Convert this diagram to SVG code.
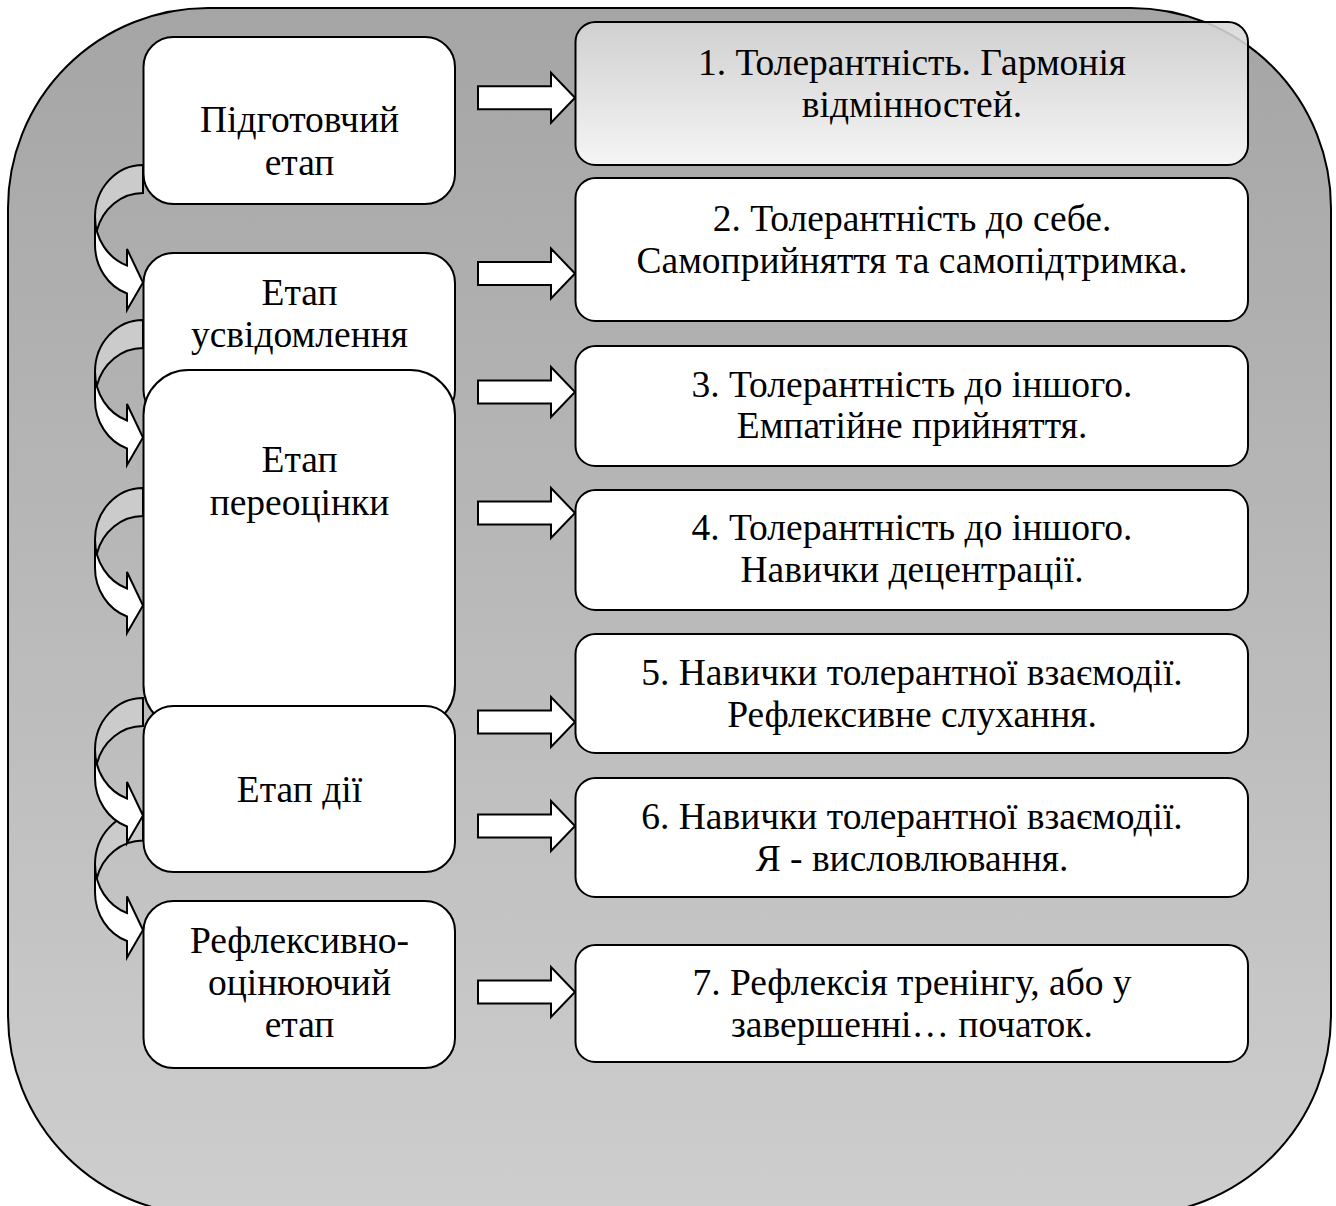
<svg xmlns="http://www.w3.org/2000/svg" width="1336" height="1206" viewBox="0 0 1336 1206">
<defs>
<linearGradient id="bg" x1="0" y1="0" x2="0" y2="1">
<stop offset="0" stop-color="#a5a5a5"/>
<stop offset="1" stop-color="#cecece"/>
</linearGradient>
<linearGradient id="g1" x1="0" y1="0" x2="0" y2="1">
<stop offset="0" stop-color="#d6d6d6"/>
<stop offset="1" stop-color="#ffffff"/>
</linearGradient>
<g id="carrow">
<path class="cw" d="M0,51.75 A48,51.75 0 0 0 32,100.54 L32,84.04 L48,117.5 L32,145.04 L32,128.54 A48,51.75 0 0 1 0,79.75 Z"/>
<path class="cd" d="M48,28 A48,51.75 0 0 0 1.79,65.75 A48,51.75 0 0 1 48,0 Z"/>
<path class="co" d="M0,51.75 A48,51.75 0 0 0 32,100.54 L32,84.04 L48,117.5 L32,145.04 L32,128.54 A48,51.75 0 0 1 0,79.75 L0,51.75 A48,51.75 0 0 1 48,0 L48,28 A48,51.75 0 0 0 1.79,65.75"/>
</g>
<path id="rarrow" class="ra" d="M478,-11.5 H551 V-25 L575,0 L551,25 V11.5 H478 Z"/>
</defs>
<style>
.cw{fill:#ffffff;stroke:none}
.cd{fill:#cbcbcb;stroke:none}
.co{fill:none;stroke:#000;stroke-width:2;stroke-linejoin:miter}
.ra{fill:#ffffff;stroke:#000;stroke-width:2}
.box{fill:#ffffff;stroke:#000;stroke-width:2}
.t{font-family:"Liberation Serif","Times New Roman",serif;font-size:37.5px;fill:#000;text-anchor:middle}
</style>
<rect id="frame" x="8" y="8" width="1323" height="1207" rx="200" ry="200" fill="url(#bg)" stroke="#000" stroke-width="2"/>
<g id="connectors">
<use href="#carrow" transform="translate(95,812.5)"/>
<use href="#carrow" transform="translate(95,698)"/>
<use href="#carrow" transform="translate(95,488)"/>
<use href="#carrow" transform="translate(95,320)"/>
<use href="#carrow" transform="translate(95,165)"/>
<use href="#rarrow" transform="translate(0,97.7)"/>
<use href="#rarrow" transform="translate(0,273.5)"/>
<use href="#rarrow" transform="translate(0,392)"/>
<use href="#rarrow" transform="translate(0,513)"/>
<use href="#rarrow" transform="translate(0,722)"/>
<use href="#rarrow" transform="translate(0,826)"/>
<use href="#rarrow" transform="translate(0,992)"/>
</g>
<g id="stage1"><rect class="box" x="143.5" y="37" width="311.5" height="167" rx="30"/>
<text class="t" x="299.5" y="132">Підготовчий</text><text class="t" x="299.5" y="175">етап</text></g>
<g id="stage2"><rect class="box" x="143.5" y="253" width="311.5" height="167" rx="30"/>
<text class="t" x="299.5" y="305">Етап</text><text class="t" x="299.5" y="347">усвідомлення</text></g>
<g id="stage3"><rect class="box" x="143.5" y="370" width="311.5" height="360" rx="45"/>
<text class="t" x="299.5" y="472">Етап</text><text class="t" x="299.5" y="515">переоцінки</text></g>
<g id="stage4"><rect class="box" x="143.5" y="706" width="311.5" height="166" rx="30"/>
<text class="t" x="299.5" y="802">Етап дії</text></g>
<g id="stage5"><rect class="box" x="143.5" y="901" width="311.5" height="167" rx="30"/>
<text class="t" x="299.5" y="953">Рефлексивно-</text><text class="t" x="299.5" y="995">оцінюючий</text><text class="t" x="299.5" y="1037">етап</text></g>
<g id="topic1"><rect x="575.5" y="22" width="672.5" height="143" rx="20" fill="url(#g1)" fill-opacity="0.88" stroke="#000" stroke-width="2"/>
<text class="t" x="912" y="75">1. Толерантність. Гармонія</text><text class="t" x="912" y="117">відмінностей.</text></g>
<g id="topic2"><rect class="box" x="575.5" y="178" width="672.5" height="143" rx="20"/>
<text class="t" x="912" y="231">2. Толерантність до себе.</text><text class="t" x="912" y="273">Самоприйняття та самопідтримка.</text></g>
<g id="topic3"><rect class="box" x="575.5" y="346" width="672.5" height="120" rx="20"/>
<text class="t" x="912" y="397">3. Толерантність до іншого.</text><text class="t" x="912" y="438">Емпатійне прийняття.</text></g>
<g id="topic4"><rect class="box" x="575.5" y="490" width="672.5" height="120" rx="20"/>
<text class="t" x="912" y="540">4. Толерантність до іншого.</text><text class="t" x="912" y="582">Навички децентрації.</text></g>
<g id="topic5"><rect class="box" x="575.5" y="634" width="672.5" height="119" rx="20"/>
<text class="t" x="912" y="685">5. Навички толерантної взаємодії.</text><text class="t" x="912" y="727">Рефлексивне слухання.</text></g>
<g id="topic6"><rect class="box" x="575.5" y="778" width="672.5" height="119" rx="20"/>
<text class="t" x="912" y="829">6. Навички толерантної взаємодії.</text><text class="t" x="912" y="871">Я - висловлювання.</text></g>
<g id="topic7"><rect class="box" x="575.5" y="945" width="672.5" height="117" rx="20"/>
<text class="t" x="912" y="995">7. Рефлексія тренінгу, або у</text><text class="t" x="912" y="1037">завершенні… початок.</text></g>
</svg>
